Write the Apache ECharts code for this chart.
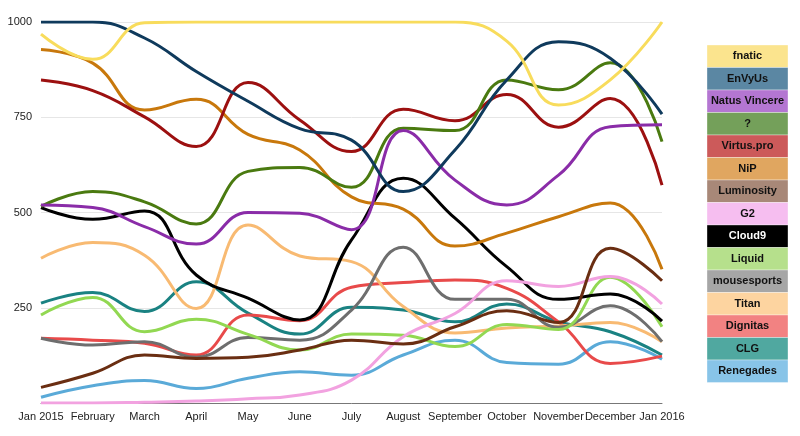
<!DOCTYPE html>
<html>
<head>
<meta charset="utf-8">
<script src="https://cdn.jsdelivr.net/npm/echarts@6/dist/echarts.min.js"></script>
<style>html,body{margin:0;padding:0;background:#fff}#c{width:800px;height:436px}</style>
</head>
<body>
<div id="c"></div>
<script>
var months = ['Jan 2015','February','March','April','May','June','July','August','September','October','November','December','Jan 2016'];
var yTicks = [0, 250, 500, 750, 1000];

var teams = ['fnatic','EnVyUs','Natus Vincere','?','Virtus.pro','NiP','Luminosity','G2','Cloud9','Liquid','mousesports','Titan','Dignitas','CLG','Renegades'];
var lineColors = ['#f8dc5c','#0f3a5c','#8a2ca8','#4a7a10','#9c1010','#c8780c','#6a2e12','#f2a2e0','#000000','#92d852','#6e6e6e','#f8ba72','#e84a4a','#1a8282','#5aaad8'];
var legendColors = ['#fbe48e','#5b87a3','#b476d2','#74a05a','#cc5a5a','#e0a660','#a88878','#f6bef0','#000000','#b6e08c','#a6a6a6','#fdd4a0','#f28282','#50a8a0','#88c4e8'];
var legendText = ['#111','#111','#111','#111','#111','#111','#111','#111','#fff','#111','#111','#111','#111','#111','#111'];

var fnatic       = [968, 902, 998, 1000, 1000, 1000, 1000, 1000, 1000, 950, 782, 848, 1000];
var envyus       = [1000, 1000, 958, 870, 792, 720, 690, 555, 664, 848, 948, 905, 758];
var natusVincere = [520, 513, 463, 417, 500, 498, 455, 715, 585, 520, 598, 725, 730];
var question     = [516, 555, 528, 470, 608, 618, 566, 721, 715, 848, 822, 893, 686];
var virtusPro    = [848, 820, 751, 673, 841, 743, 660, 771, 741, 810, 724, 799, 572];
var nip          = [928, 892, 769, 797, 705, 664, 541, 509, 412, 446, 489, 525, 351];
var luminosity   = [41, 78, 126, 117, 120, 139, 165, 155, 200, 242, 211, 406, 321];
var g2           = [0, 0, 2, 5, 11, 21, 60, 174, 235, 321, 306, 332, 260];
var cloud9       = [513, 482, 504, 336, 275, 218, 428, 590, 485, 358, 272, 286, 215];
var liquid       = [231, 277, 187, 220, 180, 139, 181, 178, 148, 206, 193, 330, 200];
var mousesports  = [170, 152, 161, 120, 172, 165, 244, 409, 272, 272, 199, 255, 161];
var titan        = [380, 421, 388, 248, 467, 386, 371, 253, 184, 197, 202, 211, 161];
var dignitas     = [170, 165, 157, 126, 231, 216, 304, 316, 323, 301, 213, 104, 123];
var clg          = [262, 290, 240, 318, 236, 181, 251, 244, 213, 260, 213, 187, 126];
var renegades    = [15, 45, 59, 38, 65, 82, 73, 126, 165, 106, 102, 161, 115];

var seriesData = [fnatic, envyus, natusVincere, question, virtusPro, nip, luminosity, g2, cloud9, liquid, mousesports, titan, dignitas, clg, renegades];

var chart = echarts.init(document.getElementById('c'), null, {renderer: 'canvas'});

var series = teams.map(function (name, i) {
  return {
    name: name,
    type: 'line',
    data: seriesData[i],
    smooth: 0.45,
    showSymbol: false,
    symbol: 'none',
    lineStyle: {color: lineColors[i], width: 3},
    itemStyle: {color: lineColors[i]},
    z: 2 + (teams.length - i) / 100
  };
});

// legend as boxes
var graphics = [];
var lx = 707, ly = 45, lw = 81, lh = 22.5;
teams.forEach(function (name, i) {
  graphics.push({
    type: 'rect',
    shape: {x: lx, y: ly + i * lh, width: lw, height: lh},
    style: {fill: legendColors[i], stroke: 'rgba(255,255,255,0.35)', lineWidth: 1},
    silent: true
  });
  graphics.push({
    type: 'text',
    x: lx + lw / 2,
    y: ly + i * lh + lh / 2,
    style: {
      text: name,
      fill: legendText[i],
      font: 'bold 11px "Liberation Sans", Arial, sans-serif',
      align: 'center',
      verticalAlign: 'middle'
    },
    silent: true
  });
});

chart.setOption({
  animation: false,
  backgroundColor: '#ffffff',
  grid: {left: 41, right: 138, top: 22, bottom: 33, containLabel: false},
  xAxis: {
    type: 'category',
    data: months,
    boundaryGap: false,
    axisLine: {show: true, lineStyle: {color: '#777', width: 1}},
    axisTick: {show: false},
    axisLabel: {color: '#222', fontSize: 11, fontFamily: '"Liberation Sans", Arial, sans-serif', margin: 8, interval: 0},
    splitLine: {show: false}
  },
  yAxis: {
    type: 'value',
    min: yTicks[0],
    max: yTicks[yTicks.length - 1],
    interval: 250,
    axisLine: {show: false},
    axisTick: {show: false},
    axisLabel: {
      color: '#222', fontSize: 11, fontFamily: '"Liberation Sans", Arial, sans-serif', margin: 9,
      formatter: function (v) { return v === 0 ? '' : String(v); }
    },
    splitLine: {show: true, lineStyle: {color: '#e6e6e6', width: 1}}
  },
  series: series,
  graphic: graphics
});
</script>
</body>
</html>
